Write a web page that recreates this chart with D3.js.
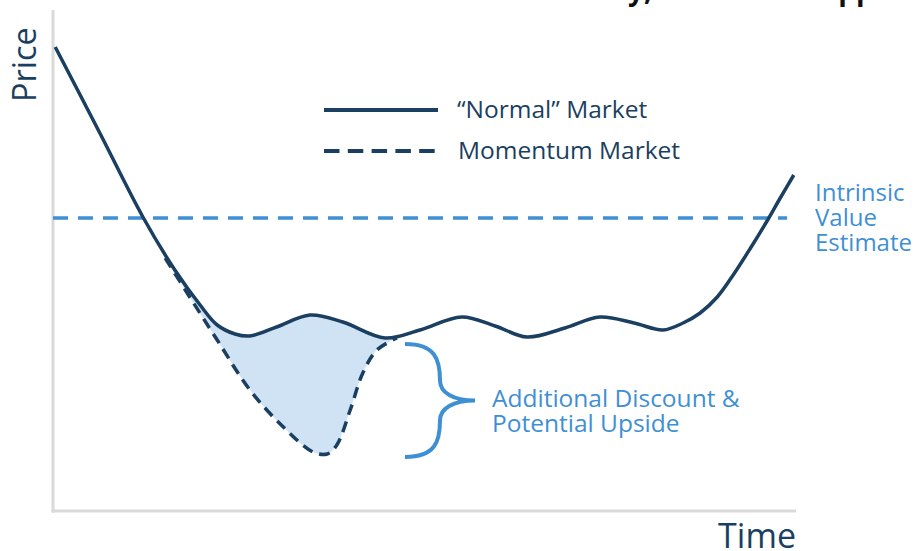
<!DOCTYPE html>
<html lang="en">
<head>
<meta charset="UTF-8">
<title>Normal vs Momentum Market</title>
<script src="https://d3js.org/d3.v7.min.js"></script>
<style>
  html, body { margin: 0; padding: 0; background: #fff; }
  body { font-family: "Open Sans", sans-serif; }
  svg { display: block; }
</style>
</head>
<body>
<svg id="chart" width="917" height="551"></svg>
<script>
// time / price in arbitrary 0-100 units
const normalTime  = [0.3, 6.3, 12.1, 16.4, 19.8, 22.1, 24.5, 26.5, 30.1, 34.6, 39.0, 44.7, 49.4, 55.0, 59.5, 63.8, 68.9, 73.6, 78.2, 82.1, 84.8, 87.1, 89.4, 91.5, 93.8, 96.1, 97.8, 99.7];
const normalPrice = [92.8, 75.6, 58.8, 48.2, 41.2, 37.2, 35.4, 35.0, 36.8, 39.2, 37.8, 34.6, 36.2, 38.8, 37.0, 34.8, 36.6, 38.8, 37.6, 36.2, 37.6, 39.6, 42.8, 47.1, 52.4, 58.0, 62.4, 67.2];

const momentumTime  = [15.1, 18.4, 22.1, 26.5, 31.0, 35.0, 36.9, 38.2, 40.0, 41.7, 43.6, 46.3];
const momentumPrice = [50.6, 42.8, 34.2, 24.2, 16.8, 11.8, 11.4, 13.2, 20.2, 27.6, 32.2, 34.6];

const intrinsicValue = 58.6;
const intrinsicEnd = 98.8;

const legendLabels = ["\u201cNormal\u201d Market", "Momentum Market"];
const intrinsicLabel = ["Intrinsic", "Value", "Estimate"];
const discountLabel = ["Additional Discount &", "Potential Upside"];

const navy = "#1b3f60";
const blue = "#3f8fd5";
const fillBlue = "#cfe3f4";
const axisGrey = "#dadada";

const svg = d3.select("#chart");

const x = d3.scaleLinear().domain([0, 100]).range([53, 796]);
const y = d3.scaleLinear().domain([0, 100]).range([511, 11]);

const normal = normalTime.map((t, i) => [t, normalPrice[i]]);
const momentum = momentumTime.map((t, i) => [t, momentumPrice[i]]);

const line = d3.line()
    .x(d => x(d[0]))
    .y(d => y(d[1]))
    .curve(d3.curveCatmullRom.alpha(0.5));

// title, cut off by the top edge (only descenders show)
svg.append("text")
    .attr("x", 652)
    .attr("y", 0)
    .attr("text-anchor", "end")
    .attr("font-size", 28)
    .attr("font-weight", 700)
    .attr("fill", "#111")
    .text("Market Volatility,");
svg.append("text")
    .attr("x", 816)
    .attr("y", 0)
    .attr("font-size", 28)
    .attr("font-weight", 700)
    .attr("fill", "#111")
    .text("Opportunity");

// axes
svg.append("line")
    .attr("x1", x(0)).attr("x2", x(0))
    .attr("y1", y(100) - 1).attr("y2", y(0) + 1.5)
    .attr("stroke", axisGrey).attr("stroke-width", 3);
svg.append("line")
    .attr("x1", x(0) - 1.5).attr("x2", x(100))
    .attr("y1", y(0)).attr("y2", y(0))
    .attr("stroke", axisGrey).attr("stroke-width", 3);

svg.append("text")
    .attr("transform", "translate(36,102) rotate(-90)")
    .attr("font-size", 32.5)
    .attr("fill", navy)
    .text("Price");

svg.append("text")
    .attr("x", x(100))
    .attr("y", 548)
    .attr("text-anchor", "end")
    .attr("font-size", 34)
    .attr("fill", navy)
    .text("Time");

// shaded gap between the two markets
const t0 = momentumTime[0], t1 = momentumTime[momentumTime.length - 1];
const normalSeg = normal.filter(d => d[0] > t0 && d[0] < t1).reverse();
const fillPath = line(momentum) + "L" + line(normalSeg).slice(1) + "Z";
svg.append("path")
    .attr("d", fillPath)
    .attr("fill", fillBlue)
    .attr("stroke", "none");

// intrinsic value line
svg.append("line")
    .attr("x1", x(0)).attr("x2", x(intrinsicEnd))
    .attr("y1", y(intrinsicValue)).attr("y2", y(intrinsicValue))
    .attr("stroke", blue)
    .attr("stroke-width", 3.5)
    .attr("stroke-dasharray", "15,10");

// momentum (dashed) and normal (solid)
svg.append("path")
    .attr("d", line(momentum))
    .attr("fill", "none")
    .attr("stroke", navy)
    .attr("stroke-width", 3.5)
    .attr("stroke-dasharray", "11,7");

svg.append("path")
    .attr("d", line(normal))
    .attr("fill", "none")
    .attr("stroke", navy)
    .attr("stroke-width", 3.5)
    .attr("stroke-linejoin", "round");

// legend
const legend = svg.append("g").attr("transform", "translate(324,110)");
legendLabels.forEach((lab, i) => {
    const g = legend.append("g").attr("transform", `translate(0,${i * 41})`);
    g.append("line")
        .attr("x1", 0).attr("x2", 114)
        .attr("stroke", navy)
        .attr("stroke-width", 4)
        .attr("stroke-dasharray", i === 1 ? "15.5,8.3" : null);
    g.append("text")
        .attr("x", 133 + i)
        .attr("y", 7.5)
        .attr("font-size", 24.5)
        .attr("fill", navy)
        .text(lab);
});

// intrinsic label
svg.append("text")
    .attr("font-size", 24)
    .attr("fill", blue)
    .selectAll("tspan")
    .data(intrinsicLabel)
    .join("tspan")
    .attr("x", 815)
    .attr("y", (d, i) => 201 + i * 25)
    .text(d => d);

// curly brace from the momentum rejoin point down to its low
const bx = 405;
const bTop = y(momentumPrice[momentumPrice.length - 1]) + 6;
const bBot = y(d3.min(momentumPrice)) + 3;
const bMid = (bTop + bBot) / 2;
const brace = d3.path();
brace.moveTo(bx, bTop);
brace.bezierCurveTo(bx + 30, bTop, bx + 35, bTop + 15, bx + 35, bMid - 20);
brace.bezierCurveTo(bx + 35, bMid - 8, bx + 48, bMid, bx + 70, bMid);
brace.bezierCurveTo(bx + 48, bMid, bx + 35, bMid + 8, bx + 35, bMid + 20);
brace.bezierCurveTo(bx + 35, bBot - 15, bx + 30, bBot, bx, bBot);
svg.append("path")
    .attr("d", brace.toString())
    .attr("fill", "none")
    .attr("stroke", blue)
    .attr("stroke-width", 4);

svg.append("text")
    .attr("font-size", 24.5)
    .attr("fill", blue)
    .selectAll("tspan")
    .data(discountLabel)
    .join("tspan")
    .attr("x", 492)
    .attr("y", (d, i) => 407 + i * 25)
    .text(d => d);
</script>
</body>
</html>
